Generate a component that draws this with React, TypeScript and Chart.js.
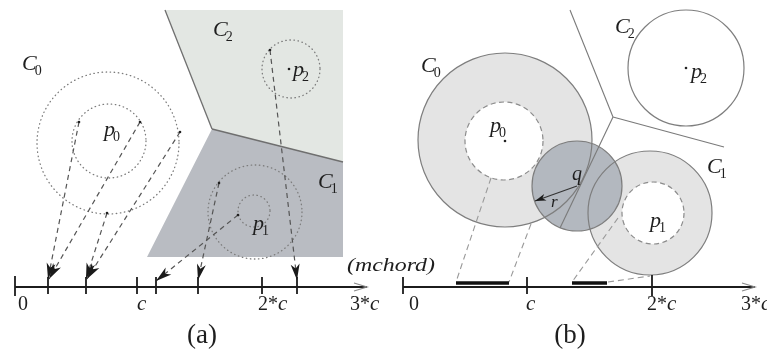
import React, { useEffect, useRef } from 'react';
import { Chart, registerables } from 'chart.js';

Chart.register(...registerables);

// ---------------- panel (a) ----------------
const regionC2A = [[165, 10], [343, 10], [343, 162], [212, 129]];
const regionC1A = [[212, 129], [343, 162], [343, 257], [147, 257]];
const regionEdgesA = [[[165, 10], [212, 129]], [[212, 129], [343, 162]]];
const dottedCentersA = [[108, 143], [109, 141], [291, 69], [255, 212], [254, 211]];
const dottedRadiiA = [71, 37, 29, 47, 16];
const projFromA = [[79, 122], [140, 122], [180, 132], [107, 213], [219, 183], [238, 215], [270, 50]];
const projToA = [[48, 279], [49, 279], [87, 279], [86, 279], [198, 280], [156, 281], [297, 280]];
const axisA = [[15, 287], [367, 287]];
const ticksA = [15, 48, 86, 137, 156, 198, 262, 297];
const tickLabelsA = ['0', 'c', '2*c', '3*c'];
const tickLabelXA = [18, 137, 258, 350];

// ---------------- panel (b) ----------------
const voronoiB = [[[570, 10], [613, 117]], [[613, 117], [724, 147]], [[613, 117], [560, 228]]];
const ringCentersB = [[505, 140], [650, 213]];
const ringOuterB = [87, 62];
const holeCentersB = [[504, 141], [653, 213]];
const holeRadiiB = [39, 31];
const siteCircleB = [686, 68];
const siteRadiusB = 58;
const queryCenterB = [577, 186];
const queryRadiusB = 45;
const radiusEndB = [535, 201];
const projLinksB = [[[491, 178], [456, 282]], [[531, 224], [509, 282]], [[618, 218], [572, 282]], [[608, 282], [650, 276]]];
const chordSpansB = [[456, 509], [572, 607]];
const chordYB = 283;
const axisB = [[403, 287], [755, 287]];
const ticksB = [403, 527, 652];
const tickLabelsB = ['0', 'c', '2*c', '3*c'];
const tickLabelXB = [409, 526, 647, 741];

// ---------------- labels ----------------
const symBase = ['C', 'C', 'p', 'p', 'p', 'C', 'C', 'p', 'C', 'p', 'C', 'p'];
const symSub = ['0', '2', '0', '2', '1', '1', '0', '0', '2', '2', '1', '1'];
const symX = [22, 213, 104, 293, 253, 318, 421, 490, 615, 691, 707, 650];
const symY = [70, 36, 136, 76, 230, 188, 72, 132, 33, 78, 173, 227];
const centerDots = [[289, 69], [686, 68], [505, 141], [79, 122], [140, 122], [180, 132], [107, 213], [219, 183], [238, 215], [270, 50]];
const panelNames = ['(a)', '(b)'];
const panelNameX = [202, 570];
const axisTitle = '(mchord)';
const axisTitleX = [347, 435];

const SERIF = '"Liberation Serif", "DejaVu Serif", serif';

const pts = (arr: number[][]) => arr.map(([x, y]) => ({ x, y }));

function lineSet(label: string, arr: number[][], color: string, width: number, dash: number[] = []) {
  return {
    label,
    data: pts(arr),
    showLine: true,
    borderColor: color,
    backgroundColor: color,
    borderWidth: width,
    borderDash: dash,
    pointRadius: 0,
    fill: false,
    tension: 0,
  };
}

function polySet(label: string, arr: number[][], color: string) {
  return {
    label,
    data: pts([...arr, arr[0]]),
    showLine: true,
    borderColor: color,
    backgroundColor: color,
    borderWidth: 0,
    pointRadius: 0,
    fill: 'shape',
    tension: 0,
  };
}

function arrowHead(ctx: CanvasRenderingContext2D, x1: number, y1: number, x2: number, y2: number, len: number, half: number, color: string) {
  const a = Math.atan2(y2 - y1, x2 - x1);
  ctx.save();
  ctx.translate(x2, y2);
  ctx.rotate(a);
  ctx.beginPath();
  ctx.moveTo(0, 0);
  ctx.lineTo(-len, -half);
  ctx.lineTo(-len * 0.72, 0);
  ctx.lineTo(-len, half);
  ctx.closePath();
  ctx.fillStyle = color;
  ctx.fill();
  ctx.restore();
}

function openArrow(ctx: CanvasRenderingContext2D, x: number, y: number) {
  ctx.save();
  ctx.strokeStyle = '#8a8a8a';
  ctx.lineWidth = 1.2;
  ctx.beginPath();
  ctx.moveTo(x - 13, y - 4);
  ctx.lineTo(x, y);
  ctx.lineTo(x - 13, y + 4);
  ctx.stroke();
  ctx.restore();
}

const diagramPlugin = {
  id: 'diagram',
  afterDatasetDraw(chart: any, args: any) {
    const ds = chart.data.datasets[args.index];
    if (!ds || ds.label !== 'regionC1A') return;
    const ctx: CanvasRenderingContext2D = chart.ctx;
    const px = (v: number) => chart.scales.x.getPixelForValue(v);
    const py = (v: number) => chart.scales.y.getPixelForValue(v);
    const pr = (r: number) => Math.abs(px(r) - px(0));
    const circle = (c: number[], r: number) => {
      ctx.beginPath();
      ctx.arc(px(c[0]), py(c[1]), pr(r), 0, Math.PI * 2);
    };
    ctx.save();
    // panel (a): dotted circles
    ctx.strokeStyle = '#7c7c7c';
    ctx.lineWidth = 1.3;
    ctx.lineCap = 'round';
    ctx.setLineDash([0.5, 3.6]);
    dottedCentersA.forEach((c, i) => {
      circle(c, dottedRadiiA[i]);
      ctx.stroke();
    });
    ctx.setLineDash([]);
    ctx.lineCap = 'butt';

    // panel (b): annuli
    ringCentersB.forEach((c, i) => {
      circle(c, ringOuterB[i]);
      ctx.fillStyle = '#e4e4e4';
      ctx.fill();
    });
    holeCentersB.forEach((c, i) => {
      circle(c, holeRadiiB[i]);
      ctx.fillStyle = '#ffffff';
      ctx.fill();
      ctx.strokeStyle = '#8c8c8c';
      ctx.lineWidth = 1.2;
      ctx.setLineDash([5, 3.5]);
      ctx.stroke();
      ctx.setLineDash([]);
    });
    // query disc
    circle(queryCenterB, queryRadiusB);
    ctx.fillStyle = '#b3b8bf';
    ctx.fill();
    // outlines
    ctx.strokeStyle = '#7e7e7e';
    ctx.lineWidth = 1.2;
    ringCentersB.forEach((c, i) => {
      circle(c, ringOuterB[i]);
      ctx.stroke();
    });
    circle(queryCenterB, queryRadiusB);
    ctx.stroke();
    circle(siteCircleB, siteRadiusB);
    ctx.fillStyle = '#ffffff';
    ctx.fill();
    ctx.stroke();
    ctx.restore();
  },
  afterDatasetsDraw(chart: any) {
    const ctx: CanvasRenderingContext2D = chart.ctx;
    const px = (v: number) => chart.scales.x.getPixelForValue(v);
    const py = (v: number) => chart.scales.y.getPixelForValue(v);
    ctx.save();
    // arrowheads panel (a)
    projFromA.forEach((f, i) => {
      const t = projToA[i];
      arrowHead(ctx, px(f[0]), py(f[1]), px(t[0]), py(t[1]), 16, 4.5, '#1a1a1a');
    });
    // radius arrow (b)
    arrowHead(ctx, px(queryCenterB[0]), py(queryCenterB[1]), px(radiusEndB[0]), py(radiusEndB[1]), 11, 3.5, '#1a1a1a');
    // axis arrows
    openArrow(ctx, px(axisA[1][0]), py(axisA[1][1]));
    openArrow(ctx, px(axisB[1][0]), py(axisB[1][1]));
    // dots
    ctx.fillStyle = '#222';
    centerDots.forEach(([x, y]) => {
      ctx.beginPath();
      ctx.arc(px(x), py(y), 1.3, 0, Math.PI * 2);
      ctx.fill();
    });

    ctx.fillStyle = '#1e1e1e';
    ctx.textBaseline = 'alphabetic';
    ctx.textAlign = 'left';
    // symbol labels
    symBase.forEach((b, i) => {
      const x = px(symX[i]);
      const y = py(symY[i]);
      ctx.font = `italic 22px ${SERIF}`;
      ctx.fillText(b, x, y);
      const w = ctx.measureText(b).width;
      ctx.font = `14px ${SERIF}`;
      ctx.fillText(symSub[i], x + w - 2, y + 5);
    });
    ctx.font = `italic 20px ${SERIF}`;
    ctx.fillText('q', px(572), py(180));
    ctx.font = `italic 17px ${SERIF}`;
    ctx.fillText('r', px(551), py(207));

    // tick labels
    const drawTick = (label: string, x: number) => {
      let cx = px(x);
      const y = py(310);
      for (const ch of label) {
        ctx.font = ch === 'c' ? `italic 21px ${SERIF}` : `20px ${SERIF}`;
        ctx.fillText(ch, cx, y);
        cx += ctx.measureText(ch).width;
      }
    };
    tickLabelsA.forEach((l, i) => drawTick(l, tickLabelXA[i]));
    tickLabelsB.forEach((l, i) => drawTick(l, tickLabelXB[i]));

    // axis title
    ctx.font = `italic 19px ${SERIF}`;
    const tw = ctx.measureText(axisTitle).width;
    const target = px(axisTitleX[1]) - px(axisTitleX[0]);
    ctx.save();
    ctx.translate(px(axisTitleX[0]), py(271));
    ctx.scale(target / tw, 1);
    ctx.fillText(axisTitle, 0, 0);
    ctx.restore();

    // panel names
    ctx.textAlign = 'center';
    ctx.font = `27px ${SERIF}`;
    panelNames.forEach((n, i) => ctx.fillText(n, px(panelNameX[i]), py(343)));
    ctx.restore();
  },
};

export default function App() {
  const ref = useRef<HTMLCanvasElement>(null);
  useEffect(() => {
    document.body.style.margin = '0';
    const canvas = ref.current;
    if (!canvas) return;

    const datasets: any[] = [];
    chordSpansB.forEach((s, i) => datasets.push(lineSet('chordB' + i, [[s[0], chordYB], [s[1], chordYB]], '#111', 3.5)));
    datasets.push(lineSet('axisA', axisA, '#1c1c1c', 1.8));
    datasets.push(lineSet('axisB', axisB, '#1c1c1c', 1.8));
    ticksA.forEach((t, i) => datasets.push(lineSet('tickA' + i, [[t, i === 0 ? 276 : 277], [t, i === 0 ? 296 : 294]], '#1c1c1c', 1.8)));
    ticksB.forEach((t, i) => datasets.push(lineSet('tickB' + i, [[t, i === 2 ? 275 : 277], [t, i === 2 ? 296 : 294]], '#1c1c1c', 1.8)));
    datasets.push(lineSet('radiusB', [queryCenterB, radiusEndB], '#333', 1.1));
    projLinksB.forEach((l, i) => datasets.push(lineSet('linkB' + i, l, '#999', 1.1, [6, 4])));
    voronoiB.forEach((l, i) => datasets.push(lineSet('voronoiB' + i, l, '#7a7a7a', 1.1)));
    projFromA.forEach((f, i) => datasets.push(lineSet('projA' + i, [f, projToA[i]], '#555', 1.2, [5, 4])));
    regionEdgesA.forEach((l, i) => datasets.push(lineSet('edgeA' + i, l, '#6f6f6f', 1.3)));
    datasets.push(polySet('regionC1A', regionC1A, '#b9bcc2'));
    datasets.push(polySet('regionC2A', regionC2A, '#e3e7e3'));

    const chart = new Chart(canvas, {
      type: 'scatter',
      data: { datasets },
      options: {
        animation: false,
        responsive: false,
        maintainAspectRatio: false,
        events: [],
        layout: { padding: 0 },
        plugins: { legend: { display: false }, tooltip: { enabled: false } },
        scales: {
          x: { type: 'linear', min: 0, max: 767, display: false },
          y: { type: 'linear', min: 0, max: 352, reverse: true, display: false },
        },
      },
      plugins: [diagramPlugin],
    } as any);
    return () => chart.destroy();
  }, []);

  return (
    <div style={{ width: 767, height: 352, background: '#ffffff' }}>
      <canvas ref={ref} width={767} height={352} style={{ width: 767, height: 352, display: 'block' }} />
    </div>
  );
}
